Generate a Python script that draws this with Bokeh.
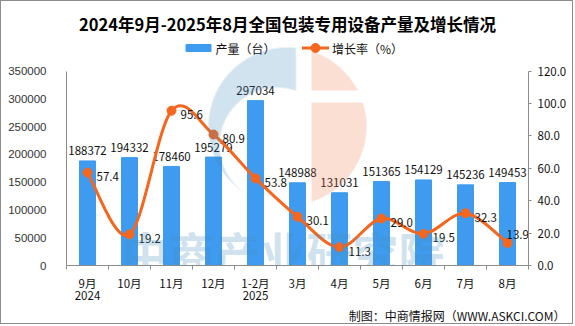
import numpy as np
from bokeh.plotting import figure
from bokeh.models import Range1d, LinearAxis, FixedTicker, NumeralTickFormatter, Label, Title
from bokeh.core.properties import value
from bokeh.embed import file_html
from bokeh.resources import INLINE

# ---------------- data ----------------
categories = ["9月\n2024", "10月", "11月", "12月", "1-2月\n2025", "3月", "4月",
              "5月", "6月", "7月", "8月"]
production = [188372, 194332, 178460, 195279, 297034, 148988, 131031,
              151365, 154129, 145236, 149453]
growth = [57.4, 19.2, 95.6, 80.9, 53.8, 30.1, 11.3, 29.0, 19.5, 32.3, 13.9]
left_ticks = [0, 50000, 100000, 150000, 200000, 250000, 300000, 350000]
right_ticks = [0, 20, 40, 60, 80, 100, 120]
title_text = "2024年9月-2025年8月全国包装专用设备产量及增长情况"
legend_labels = ["产量（台）", "增长率（%）"]
footer_text = "制图：中商情报网（WWW.ASKCI.COM）"
watermark_text = "中商产业研究院"

# ---------------- style / layout ----------------
BAR = "#3E9BEF"
ORANGE = "#F5661E"
FONT = "Noto Sans CJK SC"
W, H = 573, 324
LEFT, RIGHT, TOP, BOTTOM = 65, 46, 0, 60
Y_MAX, R_MAX = 350000, 120
PLOT_PX = 194.3          # pixels between 0 and Y_MAX
BAND = 42.0              # pixels per category
FRAME_H = H - TOP - BOTTOM

n = len(categories)
xs = list(range(n))

# helpers: reference pixel -> data coordinates (decorations only)
def X(px):
    return (px - 66) / BAND - 0.5

def Y(py):
    return (265 - py) / PLOT_PX * Y_MAX

p = figure(width=W, height=H, output_backend="svg", toolbar_location=None,
           x_range=Range1d(-0.5, n - 0.5),
           y_range=Range1d(0, Y_MAX * FRAME_H / PLOT_PX),
           min_border_left=LEFT, min_border_right=RIGHT,
           min_border_top=TOP, min_border_bottom=BOTTOM)
p.styles = {"border": "1px solid #8c8c8c"}
p.extra_y_ranges = {"right": Range1d(0, R_MAX * FRAME_H / PLOT_PX)}
p.xgrid.visible = False
p.ygrid.visible = False
p.outline_line_color = None
p.background_fill_color = "white"
p.border_fill_color = "white"

# x axis
xa = p.xaxis[0]
xa.ticker = FixedTicker(ticks=xs, minor_ticks=[i - 0.5 for i in range(n + 1)])
xa.major_label_overrides = {i: c for i, c in enumerate(categories)}
xa.major_tick_line_color = None
xa.minor_tick_in = 0
xa.minor_tick_out = 4
xa.minor_tick_line_color = "#8c8c8c"
xa.axis_line_color = "#8c8c8c"
xa.major_label_standoff = 3
xa.major_label_text_font = FONT
xa.major_label_text_font_size = "11.5px"
xa.major_label_text_line_height = 0.8
xa.major_label_text_color = "#111111"

# left axis
ya = p.yaxis[0]
ya.ticker = FixedTicker(ticks=left_ticks)
ya.formatter = NumeralTickFormatter(format="0")
ya.bounds = (0, Y_MAX)
ya.axis_line_color = "#8c8c8c"
ya.major_tick_line_color = None
ya.minor_tick_line_color = None
ya.major_label_standoff = 14
ya.major_label_text_font = "Liberation Sans"
ya.major_label_text_font_size = "11.5px"
ya.major_label_text_color = "#333333"

# right axis
ra = LinearAxis(y_range_name="right", ticker=FixedTicker(ticks=right_ticks),
                formatter=NumeralTickFormatter(format="0.0"))
ra.bounds = (0, R_MAX)
ra.axis_line_color = "#8c8c8c"
ra.major_tick_line_color = "#8c8c8c"
ra.major_tick_in = 0
ra.major_tick_out = 3
ra.minor_tick_line_color = None
ra.major_label_standoff = 6
ra.major_label_text_font = FONT
ra.major_label_text_font_size = "11.5px"
ra.major_label_text_color = "#111111"
p.add_layout(ra, "right")

# bars
p.vbar(x=xs, top=production, width=0.38, color=BAR)
p.text(x=xs, y=production, text=[str(v) for v in production],
       text_align="center", text_baseline="alphabetic", y_offset=-10,
       text_font=value(FONT), text_font_size="11.5px", text_color="#111111")

# smoothed growth line (Catmull-Rom -> Bezier through the data points)
g = np.array(growth, dtype=float)
xa_ = np.array(xs, dtype=float)
x0, y0, x1, y1, cx0, cy0, cx1, cy1 = ([] for _ in range(8))
for i in range(n - 1):
    im = max(i - 1, 0)
    ip = min(i + 2, n - 1)
    x0.append(xa_[i]); y0.append(g[i])
    x1.append(xa_[i + 1]); y1.append(g[i + 1])
    cx0.append(xa_[i] + (xa_[i + 1] - xa_[im]) / 6.0)
    cy0.append(g[i] + (g[i + 1] - g[im]) / 6.0)
    cx1.append(xa_[i + 1] - (xa_[ip] - xa_[i]) / 6.0)
    cy1.append(g[i + 1] - (g[ip] - g[i]) / 6.0)
p.bezier(x0=x0, y0=y0, x1=x1, y1=y1, cx0=cx0, cy0=cy0, cx1=cx1, cy1=cy1,
         line_color=ORANGE, line_width=3, y_range_name="right")
p.scatter(x=xs, y=growth, size=9, color=ORANGE, y_range_name="right")
# last label sits a little higher so that it stays inside the plot area
gx_off = [9] * (n - 1) + [-1]
gy_off = [4] * (n - 1) + [-8]
p.text(x=xs, y=growth, text=["%.1f" % v for v in growth],
       text_align="left", text_baseline="alphabetic", x_offset=gx_off, y_offset=gy_off,
       text_font=value(FONT), text_font_size="11.5px", text_color="#111111",
       y_range_name="right")

# title
p.text(x=[X(287)], y=[Y(23)], text=[title_text], text_align="center",
       text_baseline="middle", text_font=value(FONT), text_font_size="16.5px",
       text_font_style="bold", text_color="#000000")

# legend (drawn)
p.rect(x=[X(198)], y=[Y(47.5)], width=25, height=7, width_units="screen",
       height_units="screen", color=BAR)
p.text(x=[X(215)], y=[Y(47.5)], text=[legend_labels[0]], text_align="left",
       text_baseline="middle", text_font=value(FONT), text_font_size="12px",
       text_color="#111111")
p.line(x=[X(301.5), X(328.5)], y=[Y(47.5), Y(47.5)], line_color=ORANGE, line_width=3)
p.scatter(x=[X(315)], y=[Y(47.5)], size=9, color=ORANGE)
p.text(x=[X(331.5)], y=[Y(47.5)], text=[legend_labels[1]], text_align="left",
       text_baseline="middle", text_font=value(FONT), text_font_size="12px",
       text_color="#111111")

# watermark logo (semi-transparent overlay)
LX0, LY0, LW, LH, SS = 200, 44, 172, 166, 4
gx = LX0 + (np.arange(LW * SS) + 0.5) / SS
gy = LY0 + (np.arange(LH * SS) + 0.5) / SS
GX, GY = np.meshgrid(gx, gy)
in_o = (GX - 287) ** 2 + (GY - 126) ** 2 <= 79 ** 2
in_i = (GX - 276.6) ** 2 + (GY - 144.6) ** 2 <= 57.6 ** 2
blue = in_o & ~in_i & (GX < 295.5) & ~((GY > 170) & (GX > 250))
salmon = in_o & (GX > 311) & ~((GY > 90) & (GY < 102))
cb = blue.reshape(LH, SS, LW, SS).mean(axis=(1, 3))
cs = salmon.reshape(LH, SS, LW, SS).mean(axis=(1, 3))
rgba = np.zeros((LH, LW, 4), dtype=np.uint8)
rgba[..., 0] = np.where(cs > cb, 240, 70)
rgba[..., 1] = np.where(cs > cb, 120, 140)
rgba[..., 2] = np.where(cs > cb, 70, 190)
rgba[..., 3] = np.clip(np.maximum(cb * 0.25, cs * 0.24) * 255, 0, 255).astype(np.uint8)
img = np.ascontiguousarray(rgba).view(np.uint32).reshape(LH, LW)[::-1]
p.image_rgba(image=[img], x=X(LX0), y=Y(LY0 + LH), dw=LW / BAND,
             dh=LH / PLOT_PX * Y_MAX)

wm = Label(x=X(283), y=Y(250), text=watermark_text, text_align="center",
           text_baseline="middle", text_font=FONT, text_font_size="46px",
           text_font_style="bold", text_color="#468cbe", text_alpha=0.25)
p.add_layout(wm)

foot = Title(text=footer_text, align="right", offset=-37, standoff=0,
             vertical_align="top", text_line_height=0.7,
             text_font=FONT, text_font_size="12px", text_font_style="normal",
             text_color="#111111")
p.add_layout(foot, "below")

open("out.html", "w").write(file_html(p, INLINE))
